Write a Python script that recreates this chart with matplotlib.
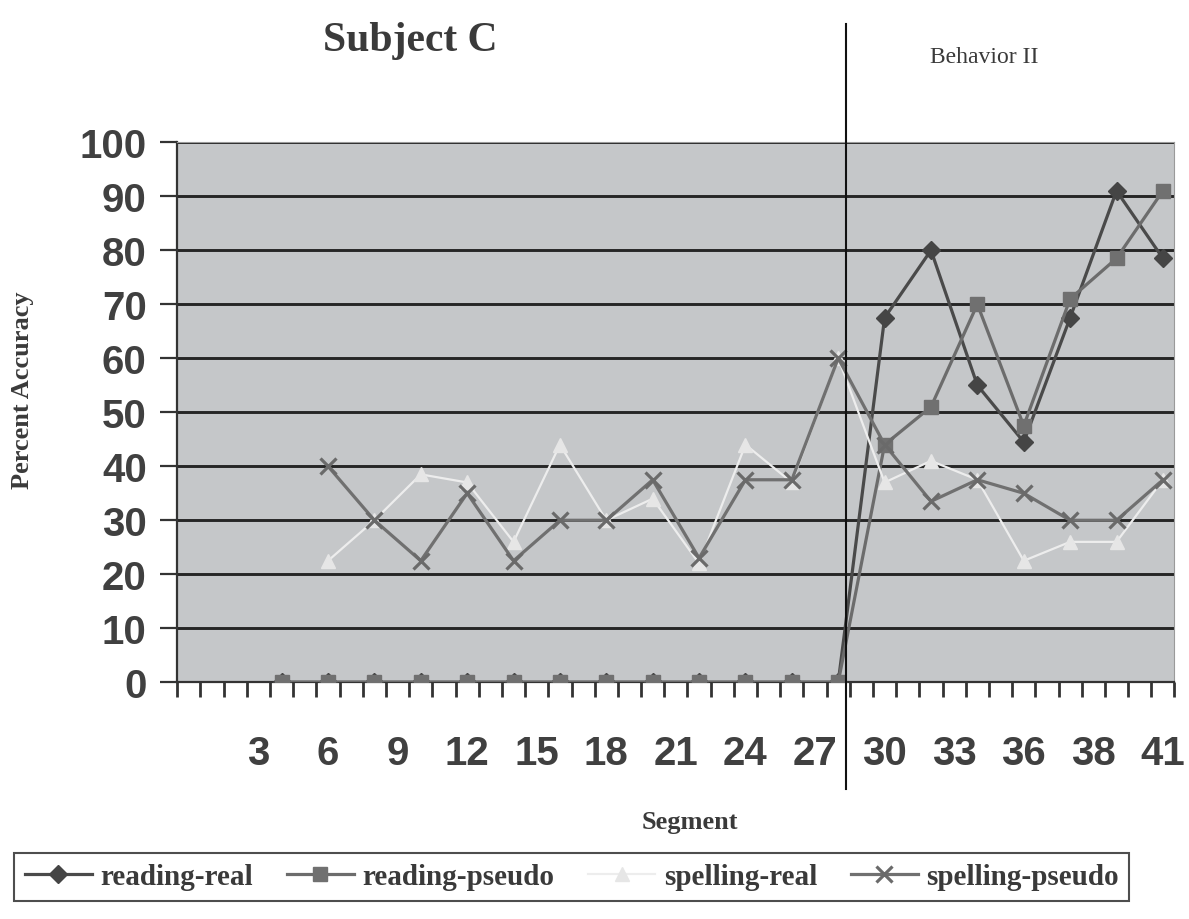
import numpy as np
import matplotlib
matplotlib.use("Agg")
import matplotlib.pyplot as plt
from matplotlib.ticker import FixedLocator, MultipleLocator

# categories on the x axis (one per segment slot), labels shown every 3rd
n_cat = 43
label_pos = [3, 6, 9, 12, 15, 18, 21, 24, 27, 30, 33, 36, 39, 42]
label_txt = ["3", "6", "9", "12", "15", "18", "21", "24", "27", "30", "33", "36", "38", "41"]

# data points sit on every other category
seg_idx = [4, 6, 8, 10, 12, 14, 16, 18, 20, 22, 24, 26, 28, 30, 32, 34, 36, 38, 40, 42]
reading_real = [0, 0, 0, 0, 0, 0, 0, 0, 0, 0, 0, 0, 0, 67.5, 80, 55, 44.5, 67.5, 91, 78.5]
reading_pseudo = [0, 0, 0, 0, 0, 0, 0, 0, 0, 0, 0, 0, 0, 44, 51, 70, 47.5, 71, 78.5, 91]
spelling_real = [np.nan, 22.5, 30, 38.5, 37, 26, 44, 30, 34, 22, 44, 37, 60, 37, 41, 37.5, 22.5, 26, 26, 37.5]
spelling_pseudo = [np.nan, 40, 30, 22.5, 35, 22.5, 30, 30, 37.5, 23, 37.5, 37.5, 60, 44, 33.5, 37.5, 35, 30, 30, 37.5]

phase_change = 28.35   # Behavior II starts here

txt = "#3a3a3a"
serif = ["Liberation Serif", "DejaVu Serif"]
sans = ["Liberation Sans", "DejaVu Sans"]

fig = plt.figure(figsize=(11.89, 9.2), dpi=100)
ax = fig.add_axes([0.1491, 0.2573, 0.8387, 0.587])
ax.set_facecolor("#c5c7c9")

ax.plot(seg_idx, reading_real, color="#4a4a4a", lw=2.3, marker="D", ms=9,
        mfc="#454545", mec="#454545", label="reading-real", zorder=3)
ax.plot(seg_idx, reading_pseudo, color="#6c6c6c", lw=2.3, marker="s", ms=10,
        mfc="#707070", mec="#707070", label="reading-pseudo", zorder=4)
ax.plot(seg_idx, spelling_real, color="#ededed", lw=1.6, marker="^", ms=10,
        mfc="#e6e6e6", mec="#e6e6e6", label="spelling-real", zorder=5)
ax.plot(seg_idx, spelling_pseudo, color="#707070", lw=2.3, marker="x", ms=12,
        mew=2.3, mec="#6a6a6a", label="spelling-pseudo", zorder=6)

ax.set_xlim(-0.5, n_cat - 0.5)
ax.set_ylim(0, 100)

# horizontal grid
ax.yaxis.set_major_locator(MultipleLocator(10))
ax.grid(axis="y", color="#262626", lw=2.1)
ax.set_axisbelow(True)

# tick marks between categories, labels on the category
ax.xaxis.set_major_locator(FixedLocator(label_pos))
ax.set_xticklabels(label_txt)
ax.xaxis.set_minor_locator(FixedLocator(np.arange(-0.5, n_cat, 1.0)))
ax.tick_params(axis="x", which="major", length=0, pad=37)
ax.tick_params(axis="x", which="minor", length=11, width=2, color="#333333", direction="out")
ax.tick_params(axis="y", which="major", length=12, width=1.6, color="#333333", pad=10)
for lab in ax.get_xticklabels() + ax.get_yticklabels():
    lab.set_family(sans)
    lab.set_fontweight("bold")
    lab.set_fontsize(29)
    lab.set_color("#404040")

ax.spines["top"].set_color("#9a9a9a")
ax.spines["right"].set_color("#9a9a9a")
ax.spines["left"].set_color("#333333")
ax.spines["bottom"].set_color("#333333")
ax.spines["left"].set_linewidth(1.6)
ax.spines["bottom"].set_linewidth(1.6)

# phase change line runs past the plot area
ax.axvline(phase_change, ymin=-0.198, ymax=1.219, color="#111111", lw=1.5,
           clip_on=False, zorder=7)

fig.text(0.345, 0.955, "Subject C", family=serif, fontweight="bold", fontsize=30,
         color=txt, ha="center", va="center")
fig.text(0.828, 0.938, "Behavior II", family=serif, fontsize=17, color=txt,
         ha="center", va="center")
fig.text(0.019, 0.576, "Percent Accuracy", family=serif, fontweight="bold", fontsize=19,
         color=txt, rotation=90, ha="center", va="center")
fig.text(0.58, 0.106, "Segment", family=serif, fontweight="bold", fontsize=19,
         color=txt, ha="center", va="center")

leg = fig.legend(loc="center", bbox_to_anchor=(0.481, 0.0457), ncol=4,
                 frameon=True, fancybox=False, edgecolor="#222222",
                 prop={"family": serif, "weight": "bold", "size": 21},
                 handlelength=2.3, handletextpad=0.3, columnspacing=1.15,
                 borderpad=0.35, borderaxespad=0)
leg.get_frame().set_linewidth(1.5)
for t in leg.get_texts():
    t.set_color(txt)

fig.savefig("out.png", dpi=100, facecolor="white")
